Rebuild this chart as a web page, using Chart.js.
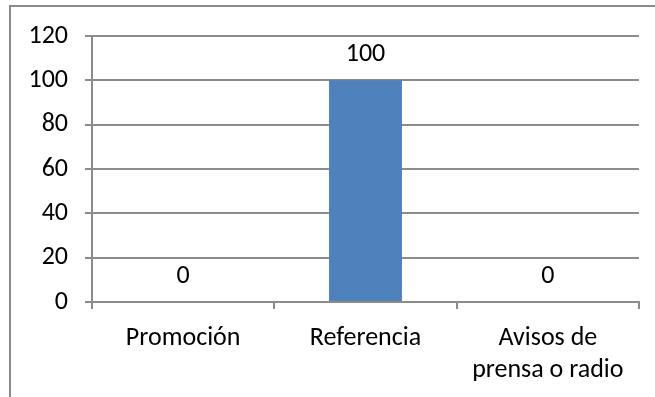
<!DOCTYPE html>
<html>
<head>
<meta charset="utf-8">
<script src="https://cdn.jsdelivr.net/npm/chart.js@4.4.1/dist/chart.umd.min.js"></script>
<style>
  html, body { margin: 0; padding: 0; background: #fff; overflow: hidden; }
  #wrap { position: relative; width: 655px; height: 397px; }
  #frame {
    position: absolute; left: 9px; top: 5px; width: 700px; height: 500px;
    border: 2px solid #8a8a8a; box-sizing: border-box; pointer-events: none;
  }
  #chart { position: absolute; left: 0; top: 0; }
</style>
</head>
<body>
<div id="wrap">
  <div id="frame"></div>
  <canvas id="chart" width="655" height="397"></canvas>
</div>
<script>
// ===================== DATA =====================
const categories = ['Promoción', 'Referencia', ['Avisos de', 'prensa o radio']];
const values = [0, 100, 0];
const yMin = 0;
const yMax = 120;
const yStep = 20;

const FONT = 'Carlito, Calibri, Lato, sans-serif';
const FONT_SIZE = 26;
const GRID = '#8c8c8c';

// value labels above each bar
const barValueLabels = {
  id: 'barValueLabels',
  afterDatasetsDraw(chart) {
    const ctx = chart.ctx;
    ctx.save();
    ctx.font = FONT_SIZE + 'px ' + FONT;
    ctx.fillStyle = '#000';
    ctx.textAlign = 'center';
    ctx.textBaseline = 'middle';
    chart.data.datasets.forEach((ds, i) => {
      chart.getDatasetMeta(i).data.forEach((bar, j) => {
        ctx.fillText(String(ds.data[j]), bar.x, bar.y - 26);
      });
    });
    ctx.restore();
  }
};

const ctx = document.getElementById('chart');
new Chart(ctx, {
  type: 'bar',
  data: {
    labels: categories,
    datasets: [{
      data: values,
      backgroundColor: '#4f81bd',
      borderWidth: 0,
      barPercentage: 0.4,
      categoryPercentage: 1
    }]
  },
  options: {
    responsive: false,
    animation: false,
    layout: { padding: { left: 0, top: 36, right: 16, bottom: 0 } },
    plugins: {
      legend: { display: false },
      tooltip: { enabled: false }
    },
    scales: {
      x: {
        afterFit: scale => { scale.height = 95; },
        grid: {
          offset: true,
          drawOnChartArea: false,
          drawTicks: true,
          tickLength: 7,
          color: GRID,
          lineWidth: 2
        },
        border: { display: true, color: GRID, width: 2 },
        ticks: {
          color: '#000',
          padding: 14,
          maxRotation: 0,
          autoSkip: false,
          font: { family: FONT, size: FONT_SIZE, lineHeight: 1.23 }
        }
      },
      y: {
        min: yMin,
        max: yMax,
        afterFit: scale => { scale.width = 92; },
        grid: {
          color: GRID,
          lineWidth: 2,
          drawTicks: true,
          tickLength: 7
        },
        border: { display: true, color: GRID, width: 2 },
        ticks: {
          stepSize: yStep,
          color: '#000',
          padding: 17,
          font: { family: FONT, size: FONT_SIZE }
        }
      }
    }
  },
  plugins: [barValueLabels]
});
</script>
</body>
</html>
